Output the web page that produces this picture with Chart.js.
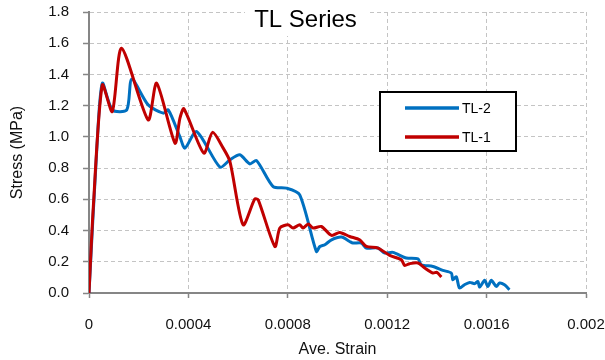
<!DOCTYPE html>
<html>
<head>
<meta charset="utf-8">
<script src="https://cdn.jsdelivr.net/npm/chart.js@4.4.0/dist/chart.umd.min.js"></script>
<style>
  html, body { margin: 0; padding: 0; background: #fff; }
  #wrap { width: 605px; height: 360px; }
</style>
</head>
<body>
<div id="wrap"><canvas id="c" width="605" height="360"></canvas></div>
<script>
// Axis tick values
const strainTicks = [0, 0.0004, 0.0008, 0.0012, 0.0016, 0.002];
const stressTicks = [0, 0.2, 0.4, 0.6, 0.8, 1.0, 1.2, 1.4, 1.6, 1.8];

// Specimen TL-2
const tl2Strain = [0, 0.0000313, 0.0000535, 0.0000937, 0.000152, 0.000172, 0.000238, 0.000299, 0.000319,
  0.000366, 0.000386, 0.000433, 0.000527, 0.000567, 0.000607, 0.000647, 0.000674, 0.000741, 0.000795,
  0.000848, 0.000915, 0.000929, 0.000949, 0.000976, 0.001016, 0.001049, 0.001062, 0.001096, 0.001116,
  0.001163, 0.00119, 0.001223, 0.001277, 0.001324, 0.001337, 0.001384, 0.001424, 0.001458, 0.001464,
  0.001478, 0.001491, 0.001511, 0.001532, 0.001552, 0.001565, 0.001572, 0.001592, 0.001605, 0.001619,
  0.001639, 0.001652, 0.001672, 0.001692];
const tl2Stress = [0, 0.92, 1.344, 1.173, 1.173, 1.37, 1.205, 1.152, 1.173,
  1.0, 0.928, 1.034, 0.806, 0.853, 0.885, 0.827, 0.849, 0.682, 0.672,
  0.629, 0.266, 0.298, 0.309, 0.341, 0.358, 0.330, 0.320, 0.320, 0.288,
  0.288, 0.256, 0.260, 0.224, 0.218, 0.181, 0.170, 0.145, 0.128, 0.085,
  0.104, 0.032, 0.053, 0.068, 0.060, 0.074, 0.038, 0.081, 0.042, 0.081,
  0.042, 0.064, 0.053, 0.021];

// Specimen TL-1
const tl1Strain = [0, 0.0000173, 0.0000535, 0.0000937, 0.000131, 0.000238, 0.000272, 0.000346, 0.000366,
  0.000382, 0.000462, 0.000497, 0.00054, 0.000567, 0.00062, 0.000667, 0.000681, 0.000748, 0.000768,
  0.000801, 0.000821, 0.000848, 0.000861, 0.000882, 0.000902, 0.000935, 0.000976, 0.001009, 0.001049,
  0.001089, 0.001116, 0.001163, 0.00121, 0.001257, 0.00127, 0.00129, 0.001324, 0.001351, 0.001384,
  0.0014, 0.001418];
const tl1Stress = [0, 0.55, 1.333, 1.162, 1.568, 1.109, 1.344, 0.96, 1.12,
  1.18, 0.896, 1.029, 0.928, 0.843, 0.437, 0.602, 0.597, 0.298, 0.416,
  0.437, 0.416, 0.437, 0.416, 0.442, 0.416, 0.426, 0.369, 0.388, 0.362,
  0.341, 0.298, 0.288, 0.241, 0.213, 0.177, 0.188, 0.192, 0.16, 0.128,
  0.132, 0.102];

const seriesNames = ['TL-2', 'TL-1'];
const seriesColors = ['#0070C0', '#C00000'];
const chartTitle = 'TL Series';
const xTitle = 'Ave. Strain';
const yTitle = 'Stress (MPa)';

const FONT = '"Liberation Sans", Arial, Helvetica, sans-serif';
const AXIS_GREY = '#868686';
const GRID_GREY = '#c4c4c4';

function toPoints(xs, ys) {
  return xs.map((x, i) => ({ x: x, y: ys[i] }));
}

// Title with its white backing and the boxed legend
const overlay = {
  id: 'overlay',
  afterDraw(chart) {
    const ctx = chart.ctx;
    ctx.save();
    // title
    ctx.fillStyle = '#fff';
    ctx.fillRect(245, 2, 122, 34);
    ctx.fillStyle = '#000';
    ctx.font = '24px ' + FONT;
    ctx.textAlign = 'center';
    ctx.textBaseline = 'alphabetic';
    ctx.fillText(chartTitle, 305.5, 26.5);

    // legend
    const bx = 380, by = 92, bw = 136, bh = 59;
    ctx.fillStyle = '#fff';
    ctx.fillRect(bx, by, bw, bh);
    ctx.lineWidth = 2;
    ctx.strokeStyle = '#000';
    ctx.strokeRect(bx, by, bw, bh);
    const rows = [108, 137];
    ctx.font = '14px ' + FONT;
    ctx.textAlign = 'left';
    ctx.textBaseline = 'middle';
    seriesNames.forEach((name, i) => {
      ctx.strokeStyle = seriesColors[i];
      ctx.lineWidth = 3.5;
      ctx.beginPath();
      ctx.moveTo(405, rows[i]);
      ctx.lineTo(459, rows[i]);
      ctx.stroke();
      ctx.fillStyle = '#000';
      ctx.fillText(name, 462, rows[i] + 1);
    });
    ctx.restore();
  }
};

// keep the plot frame governed by layout padding only
function clearLabelPadding(s) {
  s.paddingLeft = 0;
  s.paddingRight = 0;
  s.paddingTop = 0;
  s.paddingBottom = 0;
}

new Chart(document.getElementById('c'), {
  type: 'line',
  data: {
    datasets: [
      {
        label: seriesNames[0],
        data: toPoints(tl2Strain, tl2Stress),
        borderColor: seriesColors[0],
        backgroundColor: seriesColors[0],
        borderWidth: 3,
        pointRadius: 0,
        tension: 0.25,
        fill: false,
        order: 1
      },
      {
        label: seriesNames[1],
        data: toPoints(tl1Strain, tl1Stress),
        borderColor: seriesColors[1],
        backgroundColor: seriesColors[1],
        borderWidth: 3,
        pointRadius: 0,
        tension: 0.25,
        fill: false,
        order: 0
      }
    ]
  },
  options: {
    responsive: false,
    animation: false,
    devicePixelRatio: 1,
    layout: { padding: { left: 0, right: 19, top: 12, bottom: 0 } },
    plugins: {
      legend: { display: false },
      title: { display: false },
      tooltip: { enabled: false }
    },
    scales: {
      x: {
        type: 'linear',
        min: 0,
        max: 0.002,
        afterBuildTicks: s => { s.ticks = strainTicks.map(v => ({ value: v })); },
        afterFit: s => { s.height = 67; clearLabelPadding(s); },
        ticks: {
          callback: v => String(v),
          color: '#111',
          font: { family: FONT, size: 15 },
          padding: 18,
          maxRotation: 0,
          autoSkip: false
        },
        grid: {
          color: GRID_GREY,
          lineWidth: 1,
          tickLength: 5,
          tickColor: AXIS_GREY,
          tickWidth: 1.5
        },
        border: { color: AXIS_GREY, width: 2, dash: [4, 3] },
        title: {
          display: true,
          text: xTitle,
          color: '#111',
          font: { family: FONT, size: 16 },
          padding: { top: 0, bottom: 1 }
        }
      },
      y: {
        type: 'linear',
        min: 0,
        max: 1.8,
        afterBuildTicks: s => { s.ticks = stressTicks.map(v => ({ value: v })); },
        afterFit: s => { s.width = 89; clearLabelPadding(s); },
        ticks: {
          callback: v => Number(v).toFixed(1),
          color: '#111',
          font: { family: FONT, size: 15 },
          padding: 14
        },
        grid: {
          color: GRID_GREY,
          lineWidth: 1,
          tickLength: 6,
          tickColor: AXIS_GREY,
          tickWidth: 1.5
        },
        border: { color: AXIS_GREY, width: 2, dash: [4, 3] },
        title: {
          display: true,
          text: yTitle,
          color: '#111',
          font: { family: FONT, size: 16 },
          padding: { top: 8, bottom: 0 }
        }
      }
    }
  },
  plugins: [overlay]
});
</script>
</body>
</html>
